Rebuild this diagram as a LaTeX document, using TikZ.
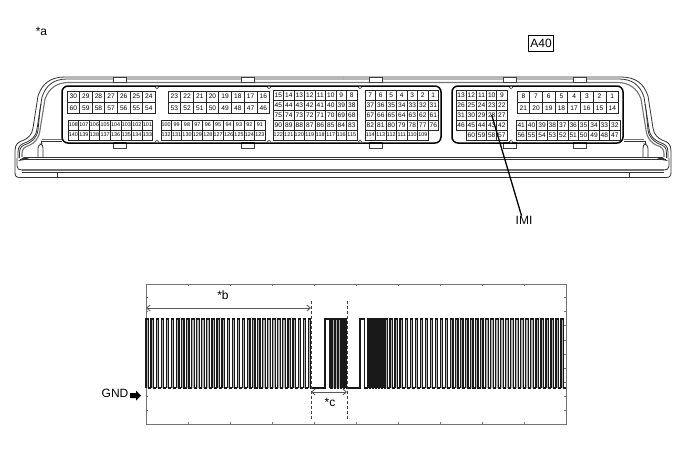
\documentclass[tikz,border=0pt]{standalone}
\usepackage{fontspec}
\setmainfont{Liberation Sans}
\usetikzlibrary{arrows.meta}
\tikzset{
    shell/.style={black!80, line width=0.8pt},
    shellgray/.style={black!55, line width=1.1pt},
    panel/.style={black, line width=1.5pt, rounded corners=6pt},
    tab/.style={draw=black!75, fill=white, line width=0.6pt},
    hole/.style={draw=black!75, fill=white, line width=0.5pt},
    pinbig/.style={draw=black!85, line width=0.7pt, inner sep=0pt, font=\fontsize{6.6}{7}\selectfont},
    pinsmall/.style={draw=black!85, line width=0.7pt, inner sep=0pt, font=\fontsize{5.4}{6}\selectfont},
    label/.style={inner sep=0pt, font=\fontsize{12}{14}\selectfont},
    signal/.style={black!90, line width=1.2pt, fill=black!30},
    frame/.style={black!55, line width=0.9pt},
    dimline/.style={black!65, line width=0.9pt, {Straight Barb[length=3.5pt,width=6pt]}-{Straight Barb[length=3.5pt,width=6pt]}},
    guide/.style={black!75, line width=1pt, densely dashed},
}
\newcommand{\pinrow}[7]{%
    \foreach \n [count=\i from 0] in {#7}
        \node[#6, minimum width=#4pt, minimum height=#5pt] (#1\n) at ({#2+(\i+.5)*#4},{#3+#5/2}) {\n};
}
\newcommand{\pulses}[3]{%
    \foreach \i in {1,...,#3} {
        \fill[black!30] ({#1+(\i-1)*#2},388) rectangle ++(#2/2,-69);
        \draw[signal, fill=none] ({#1+(\i-1)*#2},388) -- ++(0,-69) -- ++(#2/2,0) -- ++(0,69) -- ++(#2/2,0);
    }
}
\newcommand{\shellside}{%
    \draw[shell] (343,77) -- (65,77) .. controls (50,77) and (42,84) .. (38,96) -- (33,128) .. controls (32,135) and (28,138) .. (24,140) .. controls (18,142) and (15,144) .. (15,151) -- (15,172) .. controls (15,176) and (16,177.5) .. (20,177.5) -- (343,177.5);
    \draw[shell] (343,79) -- (67,79) .. controls (54,79) and (46,85) .. (42,97) -- (37,129) .. controls (36,137) and (31,140) .. (27,142) .. controls (21,144) and (18,146) .. (18,152) -- (18,158);
    \draw[shell] (41,104) -- (40,110) -- (38,130) .. controls (37,138) and (32,141) .. (28,143.5) .. controls (22,145.5) and (19.5,147) .. (19.5,153) -- (19.5,158);
    \draw[shellgray] (343,82.5) -- (69,82.5) .. controls (57,82.5) and (49,88) .. (45,99) -- (40,130) .. controls (39,139) and (34,143) .. (30,145) .. controls (24,147) and (22,149) .. (22,154) -- (22,157);
    \draw[shell] (343,157) -- (30,157);
    \draw[shell] (343,159) -- (20,159);
    \fill[black!80] (18,161) -- (24,157) -- (32,157) -- (24,160) -- cycle;
    \draw[shell] (17,158) -- (17,166) .. controls (17,169) and (19,170) .. (22,170);
    \draw[shellgray] (22,170) -- (343,170);
    \draw[shell] (22,172) -- (343,172);
    \draw[shell] (57,172) -- (57,177.5);
    \draw[shell, rounded corners=1.5pt] (38,157) -- (38,147) -- (40,144) -- (42,144) -- (43,147) -- (43,157);
    \draw[shellgray] (42,139.5) -- (62,139.5);
    \draw[shell] (41,144) -- (41,141.5) -- (62,141.5);
}
\begin{document}
\begin{tikzpicture}[x=1pt, y=-1pt]
        \useasboundingbox (0,0) rectangle (688,463);
        \node[label] (stara) at (41.5,31) {*a};
        \node[label, draw, line width=0.7pt, minimum width=25pt, minimum height=16pt] (a40) at (541,43) {A40};

        % housing
        \shellside
        \begin{scope}[xshift=686pt, xscale=-1]
            \shellside
        \end{scope}
        \foreach \x in {113,241,369,503,573} {
            \draw[tab] (\x,77) rectangle ++(13,5.5);
            \draw[tab] (\x,142) rectangle ++(13,6);
        }
        \draw[panel] (62,86) rectangle (441,143);
        \draw[panel] (452,86) rectangle (623,143);
        \foreach \x in {157,269,360,511} {
            \draw[hole] (\x,87.5) circle (1.6);
            \draw[hole] (\x,141.5) circle (1.6);
        }

        % left connector
        \pinrow{pa}{67}{91}{12.6}{11.3}{pinbig}{30,29,...,24}
        \pinrow{pa}{67}{102.3}{12.6}{11.3}{pinbig}{60,59,...,54}
        \pinrow{pa}{168}{91}{12.7}{11.3}{pinbig}{23,22,...,16}
        \pinrow{pa}{168}{102.3}{12.7}{11.3}{pinbig}{53,52,...,46}
        \pinrow{pa}{68}{120}{10.6}{10}{pinsmall}{108,107,...,101}
        \pinrow{pa}{68}{130}{10.6}{10}{pinsmall}{140,139,...,133}
        \pinrow{pa}{161}{120}{10.4}{10}{pinsmall}{100,99,...,91}
        \pinrow{pa}{161}{130}{10.4}{10}{pinsmall}{132,131,...,123}
        \pinrow{pa}{273}{90}{10.5}{10}{pinbig}{15,14,...,8}
        \pinrow{pa}{273}{100}{10.5}{10}{pinbig}{45,44,...,38}
        \pinrow{pa}{273}{110}{10.5}{10}{pinbig}{75,74,...,68}
        \pinrow{pa}{273}{120}{10.5}{10}{pinbig}{90,89,...,83}
        \pinrow{pa}{273}{130}{10.5}{10}{pinsmall}{122,121,...,115}
        \pinrow{pa}{365}{90}{10.5}{10}{pinbig}{7,6,...,1}
        \pinrow{pa}{365}{100}{10.5}{10}{pinbig}{37,36,...,31}
        \pinrow{pa}{365}{110}{10.5}{10}{pinbig}{67,66,...,61}
        \pinrow{pa}{365}{120}{10.5}{10}{pinbig}{82,81,...,76}
        \pinrow{pa}{365}{130}{10.5}{10}{pinsmall}{114,113,...,109}

        % right connector
        \pinrow{pb}{456}{90}{10.2}{10}{pinbig}{13,12,...,9}
        \pinrow{pb}{456}{100}{10.2}{10}{pinbig}{26,25,...,22}
        \pinrow{pb}{456}{110}{10.2}{10}{pinbig}{31,30,...,27}
        \pinrow{pb}{456}{120}{10.2}{10}{pinbig}{46,45,...,42}
        \pinrow{pb}{466.2}{130}{10.2}{10}{pinbig}{60,59,...,57}
        \pinrow{pb}{517}{91}{12.7}{11.3}{pinbig}{8,7,...,1}
        \pinrow{pb}{517}{102.3}{12.7}{11.3}{pinbig}{21,20,...,14}
        \pinrow{pb}{516}{120}{10.4}{10}{pinbig}{41,40,...,32}
        \pinrow{pb}{516}{130}{10.4}{10}{pinbig}{56,55,...,47}

        \node[label] (imi) at (524,220) {IMI};
        \draw[black, line width=1.3pt] (pb28.center) -- (imi.120);

        % waveform
        \draw[frame] (146,284) rectangle (566,424);
        \foreach \x in {188,230,...,530} {
            \draw[frame] (\x,284) -- ++(0,2);
            \draw[frame] (\x,424) -- ++(0,-2);
        }
        \foreach \k in {0,...,8} {
            \draw[frame] (146,297.7+14.1*\k) -- ++(2,0);
            \draw[frame] (566,297.7+14.1*\k) -- ++(-2,0);
        }
        \pulses{146}{5.07}{33}
        \draw[signal, fill=none] (311,388) -- (325,388) -- (325,319) -- (329.5,319) -- (329.5,388);
        \pulses{329.5}{3.1}{6}
        \draw[signal, fill=none] (348,388) -- (360,388) -- (360,319) -- (364.5,319) -- (364.5,388) -- (368,388);
        \pulses{368}{3}{6}
        \pulses{385}{5.03}{36}

        \coordinate (bleft) at (146,308);
        \coordinate (bright) at (311,308);
        \coordinate (cleft) at (311,392);
        \coordinate (cright) at (347,392);
        \coordinate (gtop) at (311,301);
        \coordinate (gbot) at (311,420);
        \coordinate (htop) at (347,301);
        \coordinate (hbot) at (347,420);
        \draw[guide] (gtop) -- (gbot);
        \draw[guide] (htop) -- (hbot);
        \draw[dimline] (bleft) -- (bright);
        \draw[dimline] (cleft) -- (cright);
        \node[label] (starb) at (223,295) {*b};
        \node[label] (starc) at (330,402) {*c};

        \node[label] (gnd) at (115,393.5) {GND};
        \fill[black] (130,393) -- (136,393) -- (136,390.5) -- (141,395.5) -- (136,400.5) -- (136,398) -- (130,398) -- cycle;
    \end{tikzpicture}
\end{document}
